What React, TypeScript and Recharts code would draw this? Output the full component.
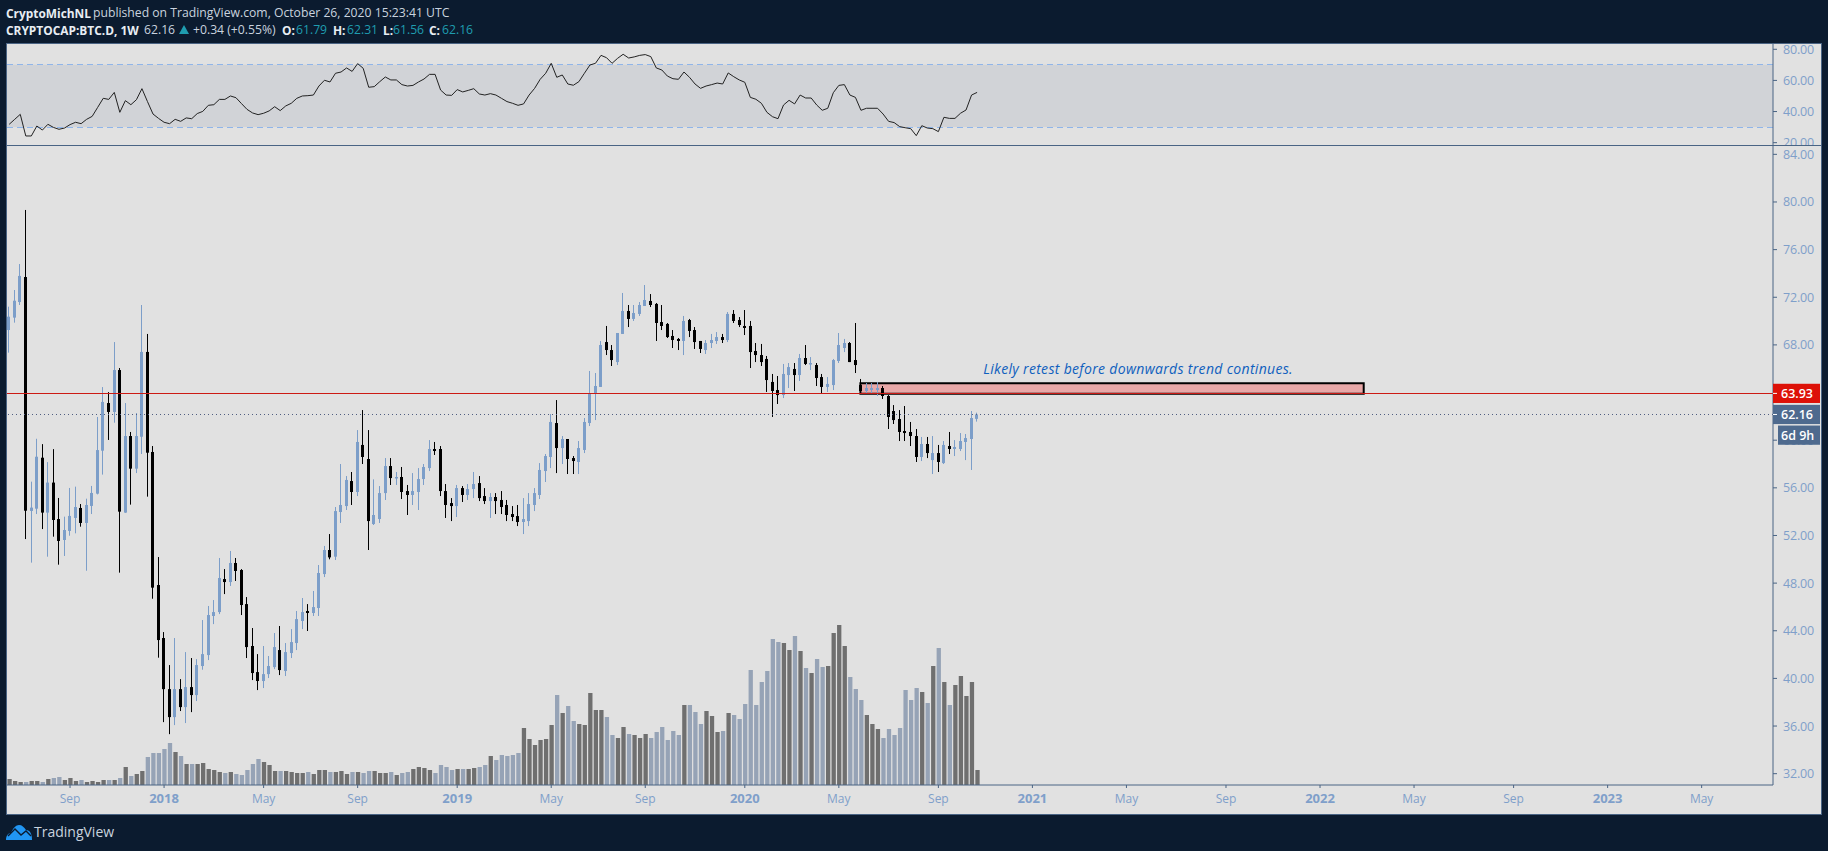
import React from "react";
import {
  ComposedChart,
  LineChart,
  Line,
  Bar,
  Cell,
  XAxis,
  YAxis,
  ReferenceArea,
  ReferenceLine,
  ReferenceDot,
} from "recharts";

const opens = [
  69.25,70.29,71.60,73.70,54.06,54.25,58.53,53.92,56.44,53.38,
  51.62,52.38,53.47,54.31,53.05,54.48,55.51,59.12,63.12,62.37,
  65.89,53.92,60.35,57.61,60.29,67.41,59.01,47.84,43.39,39.10,
  36.75,39.10,37.59,39.27,38.60,41.04,41.96,45.24,45.57,48.34,
  48.09,49.69,49.10,46.24,42.72,40.53,39.78,40.36,40.95,42.38,
  40.62,42.13,42.97,44.82,45.66,45.49,45.91,48.76,50.78,50.22,
  53.97,54.47,56.57,55.65,59.60,58.42,52.96,53.38,55.56,57.83,
  56.82,56.91,55.73,55.40,55.65,56.74,57.66,59.26,59.26,55.73,
  54.72,54.47,55.98,55.40,55.90,56.40,55.31,54.89,55.23,54.98,
  54.56,53.80,53.63,53.13,53.21,54.56,55.40,57.41,58.59,61.44,
  59.34,60.10,58.50,58.17,59.18,61.44,63.88,64.47,68.24,67.57,
  66.56,68.92,70.85,70.18,70.60,71.27,71.69,71.44,69.92,69.76,
  68.75,68.50,68.33,70.09,69.25,68.33,67.57,68.16,68.33,68.66,
  68.41,70.60,70.09,69.59,69.59,67.49,67.15,66.82,64.89,64.21,
  63.79,65.47,65.98,65.47,66.90,66.40,66.31,65.30,64.47,64.63,
  66.65,67.74,68.16,66.73,64.63,64.13,64.21,64.21,64.38,63.71,
  62.45,61.78,60.77,60.69,60.35,58.59,59.68,58.33,58.92,58.08,
  59.51,59.26,59.26,59.85,60.10,61.79,
];
const closes = [
  70.37,71.71,73.79,54.08,54.34,58.61,53.92,56.44,53.30,51.54,
  52.46,53.64,54.39,53.05,54.56,55.57,59.17,63.21,62.37,65.89,
  54.00,60.35,57.61,60.35,67.41,58.95,47.62,43.22,39.10,36.75,
  39.10,37.59,39.27,38.60,41.12,42.04,45.32,45.57,48.43,48.09,
  49.69,49.02,46.16,42.63,40.45,39.78,40.36,41.04,42.63,40.70,
  42.21,43.05,44.98,45.57,45.49,45.99,48.85,50.78,50.16,54.05,
  54.56,56.66,55.65,59.85,58.59,53.21,53.72,55.56,57.83,56.82,
  56.91,55.65,55.40,55.73,56.74,57.75,59.26,59.09,55.73,54.56,
  54.47,55.98,55.40,55.90,56.32,55.14,54.89,55.23,54.89,54.39,
  53.72,53.55,53.13,53.38,54.64,55.56,57.50,58.67,61.53,59.34,
  60.10,58.42,58.25,59.34,61.53,63.88,64.55,67.99,67.57,66.73,
  69.00,70.85,70.18,70.68,71.35,71.77,71.35,69.84,69.59,68.66,
  68.41,68.33,70.01,69.17,68.24,67.66,68.16,68.41,68.66,68.41,
  70.60,70.01,69.67,69.42,67.40,67.15,66.56,65.05,64.13,63.79,
  65.56,66.14,65.47,66.90,66.40,66.48,65.22,64.47,64.72,66.73,
  67.99,68.16,66.56,66.31,64.13,64.38,64.38,64.38,63.71,61.95,
  61.69,60.69,60.60,60.35,58.59,59.68,58.92,58.92,58.17,59.60,
  59.26,59.43,59.93,60.18,61.86,62.16,
];
const highs = [
  71.21,72.61,74.79,79.33,56.52,60.12,59.67,58.16,59.25,55.15,
  53.58,55.99,56.10,54.64,55.09,56.16,61.95,64.46,64.04,68.24,
  66.06,63.12,60.69,62.28,71.35,68.92,59.51,50.19,43.89,41.12,
  43.39,39.94,42.21,41.71,41.62,44.90,46.08,46.58,50.11,49.18,
  50.70,50.11,49.18,46.83,44.23,42.04,42.72,41.88,43.81,44.40,
  42.97,44.14,45.66,46.75,46.24,47.34,49.52,51.12,52.12,54.39,
  58.00,56.99,57.33,60.85,62.53,60.85,56.71,56.15,58.50,58.50,
  57.33,57.75,56.24,57.24,57.66,58.00,60.01,59.85,59.51,56.32,
  55.14,56.24,56.15,56.32,57.33,56.99,55.98,55.56,55.56,55.73,
  54.98,54.47,54.56,55.14,55.56,55.98,58.08,58.84,62.20,63.37,
  60.35,60.10,58.67,59.93,61.86,65.81,65.64,68.33,69.59,67.99,
  69.00,72.36,71.35,71.35,71.60,73.03,72.27,71.52,71.35,69.84,
  69.25,68.58,70.43,70.18,69.50,68.33,68.41,68.92,69.08,68.92,
  70.76,70.93,70.34,70.93,70.01,68.16,68.08,67.07,65.56,65.39,
  66.40,66.48,66.48,67.24,67.99,66.98,66.48,65.56,65.30,66.82,
  69.00,68.50,68.24,69.84,65.14,64.80,64.80,64.89,64.55,63.79,
  62.95,62.53,62.87,61.53,60.94,60.27,60.27,60.35,59.60,59.93,
  60.69,60.01,60.60,60.52,62.45,62.31,
];
const lows = [
  67.35,69.87,71.35,51.70,49.72,53.80,52.54,50.22,51.90,49.55,
  50.28,51.98,52.18,52.74,49.04,53.80,55.45,57.11,60.02,61.47,
  48.88,53.90,54.59,57.24,58.84,55.26,46.69,41.74,36.33,35.32,
  36.08,37.26,36.25,37.17,38.10,40.73,41.54,44.56,45.40,47.08,
  47.76,48.18,45.32,41.71,39.86,39.02,39.19,40.03,40.78,40.28,
  40.20,41.71,42.38,44.14,43.98,45.24,45.24,48.51,50.00,49.94,
  53.05,54.14,54.56,55.31,58.00,50.78,52.88,53.05,54.98,56.24,
  56.24,55.06,53.72,54.56,54.14,56.24,57.41,58.76,55.31,53.47,
  53.21,53.55,54.81,54.98,55.14,54.89,54.64,53.47,53.80,53.80,
  53.21,53.21,52.79,52.12,52.79,54.05,55.06,56.49,57.66,57.24,
  58.00,57.16,57.16,57.16,58.92,61.19,61.69,64.47,67.15,66.23,
  66.31,68.92,69.50,70.01,70.43,71.27,71.18,68.33,69.25,68.58,
  67.74,67.57,67.15,68.66,67.66,67.32,67.24,67.74,68.08,68.16,
  68.24,69.84,69.50,68.83,66.06,66.56,66.23,64.05,61.95,63.04,
  63.54,64.38,64.13,64.97,66.31,65.89,64.55,63.96,64.05,64.21,
  66.48,67.40,66.56,65.64,63.88,63.88,63.88,63.71,63.46,60.94,
  61.36,59.93,59.93,59.51,58.17,58.25,58.50,57.16,57.33,58.00,
  58.84,58.67,59.09,58.33,57.50,61.56,
];
const volumes = [
  6,4,3,3,4,4,3,6,7,8,5,7,4,5,3,4,3,5,5,5,
  7,18,9,11,14,28,32,32,36,42,33,29,21,21,21,22,16,15,13,12,
  13,11,10,15,21,26,23,20,14,14,14,13,12,12,13,11,15,15,13,13,
  14,11,13,13,12,14,14,12,12,13,10,12,13,16,18,17,15,12,20,18,
  15,16,16,16,17,18,20,29,25,30,29,30,32,57,46,40,45,46,60,90,
  72,79,64,61,60,92,75,75,68,50,47,58,51,50,47,51,47,53,58,45,
  54,50,80,80,73,61,74,69,53,54,72,70,66,81,115,80,103,114,146,143,
  142,135,149,134,117,112,126,118,119,152,160,139,108,96,85,70,61,56,47,56,
  50,57,95,85,97,93,82,119,137,103,80,100,109,89,103,15,
];
const volumeLight = [
  0,0,0,1,0,0,1,0,1,1,0,0,0,1,0,0,0,0,1,0,
  1,0,1,0,0,1,1,1,1,1,0,1,0,1,0,0,0,0,0,1,
  0,1,1,1,1,1,0,0,0,1,0,0,0,0,1,0,0,0,1,0,
  0,0,1,0,1,1,0,0,0,1,0,1,1,0,0,0,0,1,1,1,
  1,0,1,0,0,1,1,0,1,1,1,1,1,0,0,0,0,0,0,1,
  0,1,1,0,0,0,0,0,1,1,0,0,1,0,0,0,1,1,1,1,
  1,1,0,1,1,1,0,0,0,1,0,1,1,1,1,1,1,1,1,1,
  0,0,1,0,1,0,1,1,0,0,0,0,1,1,1,0,0,0,1,1,
  1,1,1,1,1,0,1,0,1,0,1,0,0,0,0,0,
];
const rsiValues = [
  31.8,35.0,38.2,24.3,24.3,30.7,28.1,31.8,29.8,28.6,
  29.4,31.6,33.1,32.2,35.0,36.9,42.7,48.5,47.8,52.3,
  39.5,47.0,44.4,47.6,54.7,46.4,38.4,35.6,33.1,32.2,
  35.0,33.7,35.9,35.4,38.7,40.1,44.0,44.4,47.8,47.8,
  50.0,48.9,45.1,41.4,39.1,38.0,38.9,40.4,43.1,40.6,
  43.6,45.3,48.5,50.0,50.2,50.6,56.4,60.1,59.0,64.6,
  65.4,68.0,65.8,70.8,67.8,55.6,56.0,59.2,62.2,60.3,
  60.3,57.3,56.4,56.8,59.0,60.9,63.9,63.9,53.8,50.6,
  50.4,54.1,52.6,53.6,54.7,51.3,50.6,51.5,50.6,48.5,
  46.4,45.3,44.0,44.9,50.6,54.9,60.7,64.6,71.0,62.0,
  63.5,57.7,56.9,59.2,64.6,69.9,71.0,76.1,74.6,71.0,
  74.2,76.8,74.4,75.1,76.1,76.6,75.3,68.0,66.7,62.8,
  61.1,60.7,65.4,62.0,57.7,54.9,56.4,57.3,58.3,57.7,
  64.8,62.4,60.3,58.8,49.1,47.9,45.3,39.5,36.7,35.4,
  44.2,47.2,44.9,50.6,48.7,48.7,44.2,40.8,42.1,52.1,
  56.8,57.3,50.6,49.1,40.8,42.1,42.1,42.1,38.4,33.7,
  32.9,30.3,29.6,29.0,24.5,30.9,29.4,29.0,27.1,36.3,
  35.6,35.6,38.9,41.0,50.6,52.3,
];
const timeTickIndex = [11,28,46,63,81,98,115,133,150,168,185,202,220,237,254,272,289,306];
const timeTickLabels = ["Sep","2018","May","Sep","2019","May","Sep","2020","May","Sep","2021","May","Sep","2022","May","Sep","2023","May"];
const priceTicks = [32,36,40,44,48,52,56,60,64,68,72,76,80,84];
const rsiTicks = [20,40,60,80];

const redLevel = 63.93;
const lastClose = 62.16;
const boxTop = 64.78;
const boxBottom = 63.89;
const boxFrom = 153.9;
const boxTo = 244.9;
const countdownText = "6d 9h";
const noteText = "Likely retest before downwards trend continues.";

const BG = "#0b1b2f";
const PANEL = "#e1e1e1";
const BORDER = "#4a6484";
const AXIS_TEXT = "#7f9fca";
const UP = "#7c9ec9";
const DOWN = "#000000";
const VOL_LIGHT = "#96a3b6";
const VOL_DARK = "#6f6f6f";
const TEAL = "#1f9db0";
const FONT = "'Open Sans', sans-serif";
const X_DOMAIN: [number, number] = [-0.398, 318.9];
const PRICE_DOMAIN: [number, number] = [31.05, 84.7];

const candles = opens.map((open, i) => ({
  i,
  open,
  close: closes[i],
  high: highs[i],
  low: lows[i],
  range: [lows[i], highs[i]],
  volume: volumes[i],
}));
const rsiData = rsiValues.map((rsi, i) => ({ i, rsi }));

function Candle(props: any) {
  const { x, y, width, height, payload } = props;
  const h = Math.abs(height);
  const perUnit = h / (payload.high - payload.low);
  const up = payload.close >= payload.open;
  const color = up ? UP : DOWN;
  const wickX = Math.round(x + width / 2 - 0.5);
  const top = y + (payload.high - Math.max(payload.open, payload.close)) * perUnit;
  const bodyH = Math.max(1.5, Math.abs(payload.open - payload.close) * perUnit);
  return (
    <g>
      <rect x={wickX} y={y} width={1} height={h} fill={color} />
      <rect x={wickX - 1} y={top} width={3} height={bodyH} fill={color} />
    </g>
  );
}

function TimeTick(props: any) {
  const { x, y, payload } = props;
  const label = timeTickLabels[timeTickIndex.indexOf(payload.value)];
  const isYear = /^\d/.test(label);
  return (
    <text
      x={x}
      y={y + 13}
      textAnchor="middle"
      fontFamily={FONT}
      fontSize={isYear ? 13 : 12}
      fontWeight={isYear ? 700 : 400}
      fill={AXIS_TEXT}
    >
      {label}
    </text>
  );
}

function PriceTick(props: any) {
  const { x, y, payload } = props;
  return (
    <text x={x + 4} y={y + 4.5} fontFamily={FONT} fontSize={12.5} letterSpacing={-0.2} fill={AXIS_TEXT}>
      {Number(payload.value).toFixed(2)}
    </text>
  );
}

function tag(text: string, fill: string) {
  return function Tag(props: any) {
    const vb = props.viewBox;
    const right = vb.x + vb.width;
    const cy = vb.y;
    return (
      <g>
        <rect x={right} y={cy - 9.6} width={47} height={19.2} fill={fill} />
        <rect x={right} y={cy - 0.5} width={4} height={1} fill="#ffffff" />
        <text x={right + 8} y={cy + 4.5} fontFamily={FONT} fontSize={12.5} fontWeight={600} fill="#ffffff">
          {text}
        </text>
      </g>
    );
  };
}

function CountdownTag(props: any) {
  const vb = props.viewBox;
  const right = vb.x + vb.width;
  const cy = vb.y + 20.7;
  return (
    <g>
      <rect x={right + 5} y={cy - 9.6} width={42} height={19.2} fill="#4e6a8e" />
      <text x={right + 8} y={cy + 4.5} fontFamily={FONT} fontSize={12.5} fontWeight={600} fill="#ffffff">
        {countdownText}
      </text>
    </g>
  );
}

function Piece(p: { x: number; y: number; c: string; b?: boolean; t: string; size?: number }) {
  return (
    <span
      style={{
        position: "absolute",
        left: p.x,
        top: p.y,
        color: p.c,
        fontWeight: p.b ? 700 : 400,
        fontFamily: FONT,
        fontSize: p.size ?? (p.b ? 11.9 : 12.2),
        lineHeight: "16px",
        whiteSpace: "pre",
      }}
    >
      {p.t}
    </span>
  );
}

const TXT = "#c9d3df";

export default function App() {
  return (
    <div
      style={{
        position: "absolute",
        left: 0,
        top: 0,
        width: 1828,
        height: 851,
        background: BG,
        overflow: "hidden",
      }}
    >
      <style>{"body{margin:0;background:" + BG + ";overflow:hidden}"}</style>

      <Piece x={6} y={5} c="#e8edf3" b t="CryptoMichNL" />
      <Piece x={93} y={5} c={TXT} t="published on TradingView.com, October 26, 2020 15:23:41 UTC" />
      <Piece x={6} y={22} c="#e8edf3" b t="CRYPTOCAP:BTC.D, 1W" />
      <Piece x={144} y={22} c={TXT} t="62.16" />
      <svg style={{ position: "absolute", left: 179, top: 25 }} width={10} height={10}>
        <polygon points="5,0 10,9 0,9" fill={TEAL} />
      </svg>
      <Piece x={193} y={22} c={TXT} t="+0.34 (+0.55%)" />
      <Piece x={282} y={22} c="#e8edf3" b t="O:" />
      <Piece x={296} y={22} c={TEAL} t="61.79" />
      <Piece x={333} y={22} c="#e8edf3" b t="H:" />
      <Piece x={347} y={22} c={TEAL} t="62.31" />
      <Piece x={383} y={22} c="#e8edf3" b t="L:" />
      <Piece x={393} y={22} c={TEAL} t="61.56" />
      <Piece x={429} y={22} c="#e8edf3" b t="C:" />
      <Piece x={442} y={22} c={TEAL} t="62.16" />

      {/* panel frame */}
      <div
        style={{
          position: "absolute",
          left: 6,
          top: 43,
          width: 1814,
          height: 770,
          background: PANEL,
          border: "1px solid " + BORDER,
        }}
      />

      {/* RSI pane */}
      <div style={{ position: "absolute", left: 7, top: 44, width: 1814, height: 101, overflow: "hidden" }}>
        <LineChart width={1814} height={101} data={rsiData} margin={{ top: 0, right: 0, bottom: 0, left: 0 }}>
          <XAxis dataKey="i" type="number" domain={X_DOMAIN} allowDataOverflow hide />
          <YAxis
            orientation="right"
            width={48}
            domain={[18.5, 83.4]}
            allowDataOverflow
            ticks={rsiTicks}
            interval={0}
            tick={PriceTick}
            tickSize={4}
            axisLine={{ stroke: BORDER }}
            tickLine={{ stroke: BORDER }}
          />
          <ReferenceArea y1={30} y2={70} fill="#d1d3d7" fillOpacity={1} stroke="none" />
          <ReferenceLine y={70} stroke="#8fb5ea" strokeDasharray="6 4" shapeRendering="crispEdges" />
          <ReferenceLine y={30} stroke="#8fb5ea" strokeDasharray="6 4" shapeRendering="crispEdges" />
          <Line dataKey="rsi" type="linear" stroke="#222222" strokeWidth={1} dot={false} isAnimationActive={false} />
        </LineChart>
      </div>
      <div style={{ position: "absolute", left: 7, top: 145, width: 1814, height: 1, background: BORDER }} />

      {/* Price pane */}
      <div style={{ position: "absolute", left: 7, top: 146, width: 1814, height: 668 }}>
        <ComposedChart width={1814} height={668} data={candles} margin={{ top: 0, right: 0, bottom: 0, left: 0 }}>
          <XAxis
            xAxisId="price"
            dataKey="i"
            type="number"
            domain={X_DOMAIN}
            allowDataOverflow
            ticks={timeTickIndex}
            interval={0}
            height={29}
            tick={TimeTick}
            tickSize={3}
            axisLine={{ stroke: BORDER }}
            tickLine={{ stroke: BORDER }}
          />
          <XAxis xAxisId="vol" dataKey="i" type="number" domain={X_DOMAIN} allowDataOverflow hide />
          <YAxis
            yAxisId="price"
            orientation="right"
            width={48}
            domain={PRICE_DOMAIN}
            allowDataOverflow
            ticks={priceTicks}
            interval={0}
            tick={PriceTick}
            tickSize={4}
            axisLine={{ stroke: BORDER }}
            tickLine={{ stroke: BORDER }}
          />
          <YAxis yAxisId="vol" hide domain={[0, 639]} allowDataOverflow />
          <ReferenceLine
            xAxisId="price"
            yAxisId="price"
            y={lastClose}
            stroke="#4f5d80"
            strokeDasharray="1 3"
            shapeRendering="crispEdges"
          />
          <ReferenceLine
            xAxisId="price"
            yAxisId="price"
            y={redLevel}
            stroke="#cc1a14"
            shapeRendering="crispEdges"
          />
          <Bar xAxisId="vol" yAxisId="vol" dataKey="volume" barSize={4.3} isAnimationActive={false}>
            {candles.map((c, i) => (
              <Cell key={i} fill={volumeLight[i] ? VOL_LIGHT : VOL_DARK} />
            ))}
          </Bar>
          <Bar
            xAxisId="price"
            yAxisId="price"
            dataKey="range"
            barSize={3}
            shape={Candle}
            isAnimationActive={false}
          />
          <ReferenceArea
            xAxisId="price"
            yAxisId="price"
            x1={boxFrom}
            x2={boxTo}
            y1={boxBottom}
            y2={boxTop}
            fill="rgb(240,112,112)"
            fillOpacity={0.5}
            stroke="#000000"
            strokeWidth={2}
          />
          <ReferenceDot
            xAxisId="price"
            yAxisId="price"
            x={204.1}
            y={65.98}
            r={0}
            fill="none"
            stroke="none"
            label={(p: any) => (
              <text
                x={p.viewBox.x}
                y={p.viewBox.y + 5}
                textAnchor="middle"
                fontFamily={FONT}
                fontStyle="italic"
                fontSize={14}
                letterSpacing={0.32}
                fill="#0f5fbe"
              >
                {noteText}
              </text>
            )}
          />
        </ComposedChart>
      </div>

      {/* Price tags sit above the axis labels, on the same price scale */}
      <div style={{ position: "absolute", left: 7, top: 146, width: 1814, height: 668 }}>
        <ComposedChart width={1814} height={668} data={candles} margin={{ top: 0, right: 48, bottom: 29, left: 0 }}>
          <XAxis dataKey="i" type="number" domain={X_DOMAIN} allowDataOverflow hide />
          <YAxis hide domain={PRICE_DOMAIN} allowDataOverflow />
          <ReferenceLine y={lastClose} stroke="none" label={tag("62.16", "#4e6a8e")} />
          <ReferenceLine y={lastClose} stroke="none" label={CountdownTag} />
          <ReferenceLine y={redLevel} stroke="none" label={tag("63.93", "#dd1108")} />
        </ComposedChart>
      </div>

      {/* footer logo */}
      <svg style={{ position: "absolute", left: 6, top: 824 }} width={27} height={17} viewBox="0 0 27 17">
        <path
          d="M0 16 C0 12 2 9 5 9 C7 4 10 1 13 1 C16 1 18 3 20 6 C24 6 26 10 26 16 Z"
          fill="#2196f3"
        />
        <polyline points="2,12 9,5 15,11 20,7 25,12" fill="none" stroke="#0b1b2f" strokeWidth={1.4} />
      </svg>
      <Piece x={34} y={824} c={TXT} t="TradingView" size={14} />
    </div>
  );
}
